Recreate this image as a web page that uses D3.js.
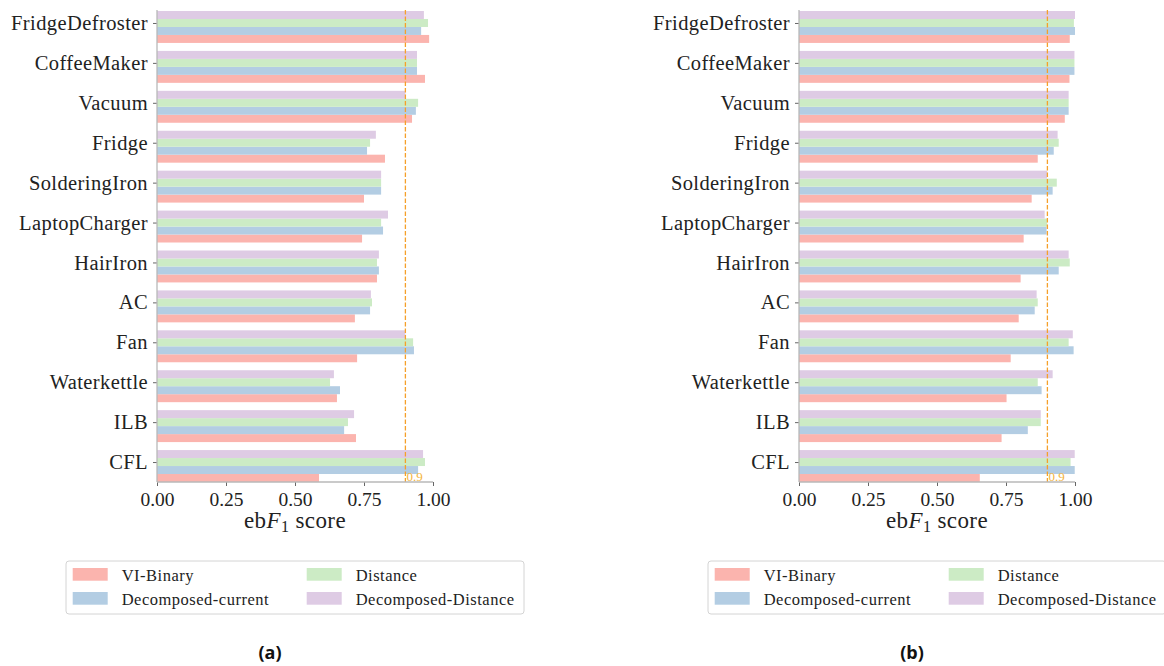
<!DOCTYPE html>
<html>
<head>
<meta charset="utf-8">
<script src="https://cdn.jsdelivr.net/npm/d3@7/dist/d3.min.js"></script>
<style>
  html, body { margin: 0; padding: 0; background: #fff; }
  svg { display: block; }
  .serif { font-family: "Liberation Serif", "DejaVu Serif", serif; }
</style>
</head>
<body>
<svg id="fig" width="1164" height="666"></svg>
<script>
// Appliances, listed top to bottom
const categories = ["FridgeDefroster", "CoffeeMaker", "Vacuum", "Fridge", "SolderingIron",
  "LaptopCharger", "HairIron", "AC", "Fan", "Waterkettle", "ILB", "CFL"];

const seriesNames = ["VI-Binary", "Decomposed-current", "Distance", "Decomposed-Distance"];
const seriesColors = ["#fbb4ae", "#b3cde3", "#ccebc5", "#decbe4"];

// ebF1 scores, panel (a)
const aVIBinary     = [0.986, 0.971, 0.924, 0.826, 0.750, 0.743, 0.797, 0.717, 0.725, 0.652, 0.721, 0.587];
const aDecompCurr   = [0.957, 0.942, 0.938, 0.761, 0.812, 0.819, 0.804, 0.772, 0.931, 0.663, 0.678, 0.946];
const aDistance     = [0.982, 0.942, 0.946, 0.772, 0.812, 0.812, 0.797, 0.779, 0.928, 0.627, 0.692, 0.971];
const aDecompDist   = [0.967, 0.942, 0.900, 0.793, 0.812, 0.837, 0.804, 0.775, 0.900, 0.641, 0.714, 0.964];

// ebF1 scores, panel (b)
const bVIBinary     = [0.981, 0.980, 0.963, 0.865, 0.843, 0.814, 0.803, 0.796, 0.767, 0.752, 0.734, 0.655];
const bDecompCurr   = [1.000, 0.998, 0.977, 0.923, 0.919, 0.897, 0.941, 0.854, 0.995, 0.879, 0.829, 0.999];
const bDistance     = [0.996, 0.998, 0.977, 0.941, 0.934, 0.899, 0.981, 0.865, 0.977, 0.865, 0.876, 0.984];
const bDecompDist   = [1.000, 0.998, 0.977, 0.937, 0.899, 0.890, 0.977, 0.861, 0.992, 0.919, 0.876, 0.999];

const xTicks = [0, 0.25, 0.5, 0.75, 1.0];
const threshold = 0.9;

const panels = [
  { caption: "(a)", dx: 0,   series: [aVIBinary, aDecompCurr, aDistance, aDecompDist] },
  { caption: "(b)", dx: 642, series: [bVIBinary, bDecompCurr, bDistance, bDecompDist] }
];

const svg = d3.select("#fig");

const plotLeft = 157, plotRight = 433, plotTop = 11, plotBottom = 482;

// bars inside a group are stacked top to bottom in reverse series order
const stackOrder = [3, 2, 1, 0];

panels.forEach(p => {
  const g = svg.append("g").attr("transform", `translate(${p.dx},0)`);

  const x = d3.scaleLinear().domain([0, 1]).range([plotLeft, plotRight]);
  const y = d3.scaleBand().domain(categories).range([plotTop, plotBottom])
    .paddingInner(0.2).paddingOuter(0);
  const inner = d3.scaleBand().domain(stackOrder).range([0, y.bandwidth()]);

  // tick sits on the centre of the second bar in each group
  const yTick = d3.scaleOrdinal().domain(categories)
    .range(categories.map(c => y(c) + inner(2) + inner.bandwidth() / 2));

  // bars
  const rows = [];
  categories.forEach((c, i) => {
    p.series.forEach((vals, s) => rows.push({ c, s, v: vals[i] }));
  });
  g.append("g").selectAll("rect").data(rows).join("rect")
    .attr("x", x(0))
    .attr("y", d => y(d.c) + inner(d.s))
    .attr("width", d => x(d.v) - x(0))
    .attr("height", inner.bandwidth())
    .attr("fill", d => seriesColors[d.s]);

  // threshold line
  g.append("line")
    .attr("x1", x(threshold)).attr("x2", x(threshold))
    .attr("y1", plotTop - 1).attr("y2", plotBottom)
    .attr("stroke", "#f5a02a").attr("stroke-width", 1.3)
    .attr("stroke-dasharray", "4.5,2");
  g.append("text").attr("class", "serif")
    .attr("x", x(threshold) + 1).attr("y", plotBottom - 1.5)
    .attr("font-size", 13)
    .attr("fill", "#f4b53c")
    .text(String(threshold));

  // axes
  const xAxis = g.append("g").attr("transform", `translate(0,${plotBottom})`)
    .call(d3.axisBottom(x).tickValues(xTicks).tickFormat(d3.format(".2f"))
      .tickSize(4).tickPadding(5));
  const yAxis = g.append("g").attr("transform", `translate(${plotLeft},0)`)
    .call(d3.axisLeft(yTick).tickSize(4).tickPadding(5));

  [xAxis, yAxis].forEach(ax => {
    ax.attr("font-family", null);
    ax.select(".domain").remove();
    ax.selectAll(".tick line").attr("stroke", "#666").attr("stroke-width", 1);
    ax.selectAll(".tick text").attr("class", "serif").attr("fill", "#222");
  });
  xAxis.selectAll(".tick text").attr("font-size", 19.5).attr("dy", "0.78em");
  yAxis.selectAll(".tick text").attr("font-size", 20.5).attr("letter-spacing", "0.4px");

  // spines
  g.append("line").attr("x1", plotLeft).attr("x2", plotLeft)
    .attr("y1", plotTop - 1).attr("y2", plotBottom)
    .attr("stroke", "#b8b8b8").attr("stroke-width", 1.3);
  g.append("line").attr("x1", plotLeft).attr("x2", plotRight)
    .attr("y1", plotBottom).attr("y2", plotBottom)
    .attr("stroke", "#b8b8b8").attr("stroke-width", 1.3);

  // axis title: eb F_1 score
  const t = g.append("text").attr("class", "serif")
    .attr("x", (plotLeft + plotRight) / 2).attr("y", 528)
    .attr("text-anchor", "middle")
    .attr("font-size", 23)
    .attr("fill", "#222").attr("letter-spacing", "0.4px");
  t.append("tspan").text("eb");
  t.append("tspan").attr("font-style", "italic").text("F");
  t.append("tspan").attr("font-size", 16).attr("dy", 4).text("1");
  t.append("tspan").attr("dy", -4).text(" score");

  // legend: two columns, filled column by column
  const lg = g.append("g");
  lg.append("rect").attr("x", 66).attr("y", 561).attr("width", 458).attr("height", 53)
    .attr("rx", 3).attr("fill", "#fff").attr("stroke", "#d4d4d4").attr("stroke-width", 1);
  seriesNames.forEach((name, s) => {
    const col = Math.floor(s / 2);
    const row = s % 2;
    const lx = col === 0 ? 72.7 : 306.7;
    const ly = 568 + row * 24;
    lg.append("rect").attr("x", lx).attr("y", ly).attr("width", 35).attr("height", 12.7)
      .attr("fill", seriesColors[s]);
    lg.append("text").attr("class", "serif").attr("x", lx + 49).attr("y", ly + 12.5)
      .attr("font-size", 16.5).attr("letter-spacing", "0.5px")
      .attr("fill", "#222").text(name);
  });

  // caption
  g.append("text").attr("x", 270).attr("y", 659).attr("text-anchor", "middle")
    .attr("font-family", "'Open Sans', 'Noto Sans', sans-serif")
    .attr("font-weight", "bold").attr("font-size", 18).attr("fill", "#111")
    .text(p.caption);
});
</script>
</body>
</html>
